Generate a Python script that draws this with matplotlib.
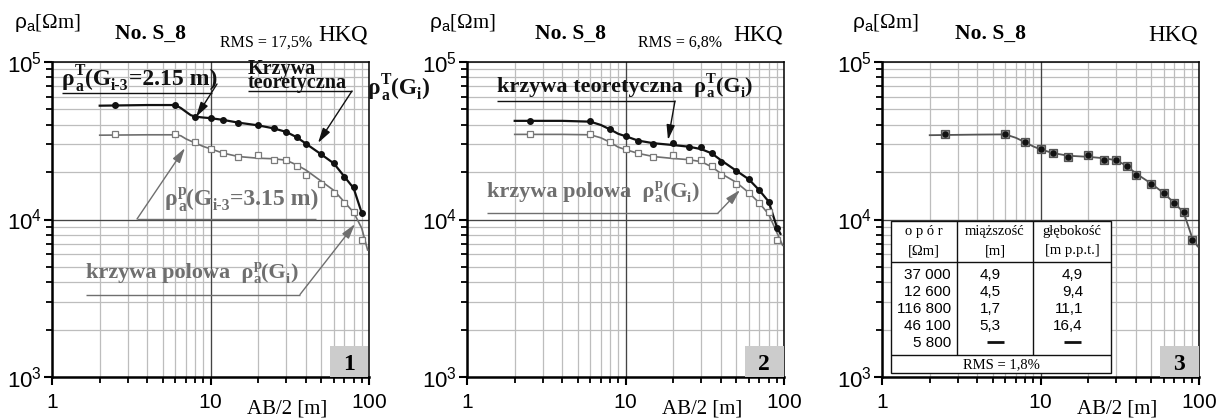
import numpy as np
import matplotlib
matplotlib.use("Agg")
import matplotlib.pyplot as plt
from matplotlib.patches import Rectangle
from matplotlib.ticker import FixedLocator, FuncFormatter, NullFormatter

plt.rcParams['font.family'] = ['Liberation Serif', 'DejaVu Serif']
plt.rcParams['mathtext.fontset'] = 'custom'
plt.rcParams['mathtext.rm'] = 'Liberation Serif'
plt.rcParams['mathtext.it'] = 'Liberation Serif:italic'
plt.rcParams['mathtext.bf'] = 'Liberation Serif:bold'
plt.rcParams['mathtext.sf'] = 'Liberation Sans'

# ---------------- data ----------------
ab2 = [2.5, 6, 8, 10, 12, 15, 20, 25, 30, 35, 40, 50, 60, 70, 80, 90]
rho_field = [34700, 34700, 30900, 27900, 26300, 24800, 25500, 24000, 24000,
             21900, 19100, 16900, 14700, 12700, 11100, 7400]
rho_theor_1 = [53300, 53300, 45000, 44000, 42900, 41200, 39600, 37900, 36000,
               33300, 30200, 25900, 22700, 18500, 16200, 11000]
rho_theor_2 = [42300, 42300, 37300, 33800, 31700, 30200, 30600, 28800, 28700,
               26400, 23300, 20400, 18000, 15300, 13000, 8800]

# smooth curves
curve_t1_x = [2, 4, 6, 6.5, 7, 7.5, 8, 9, 10, 12, 15, 20, 25, 30, 35, 40, 50, 60, 70, 80, 90]
curve_t1_y = [52800, 53300, 53300, 51000, 48300, 46000, 45000, 44400, 44000, 42900, 41200,
              39600, 37900, 36000, 33300, 30300, 25900, 22700, 18700, 15800, 11000]
curve_f1_x = [2, 4, 6, 6.5, 7, 8, 9, 10, 12, 15, 20, 25, 30, 35, 40, 50, 60, 70, 80, 90, 98]
curve_f1_y = [34300, 34500, 34500, 34000, 32500, 30600, 29100, 28100, 26400, 25100, 24500,
              24300, 23800, 22200, 20600, 17500, 15300, 12900, 11100, 8800, 6400]
curve_t2_x = [2, 4, 6, 7, 8, 9, 10, 12, 15, 20, 25, 30, 35, 40, 50, 60, 70, 80, 90, 95]
curve_t2_y = [42300, 42300, 41800, 39800, 37300, 35000, 33800, 31700, 30500, 29700, 29000,
              28000, 26300, 23800, 20400, 18000, 15300, 13000, 9000, 8100]
curve_f2_x = [2, 4, 6, 7, 8, 9, 10, 12, 15, 20, 25, 30, 35, 40, 50, 60, 70, 80, 90, 98]
curve_f2_y = [34700, 34700, 34500, 33000, 30900, 28800, 27800, 26300, 25100, 24400, 24000,
              23300, 21600, 19600, 17200, 14800, 12700, 10800, 8300, 6860]
curve_3_x = [2, 4, 6, 7, 8, 9, 10, 12, 15, 20, 25, 30, 35, 40, 50, 60, 70, 80, 90, 98]
curve_3_y = [34300, 34600, 34700, 33000, 30900, 29100, 27900, 26400, 25400, 25000, 24500,
             23800, 21900, 19600, 16900, 14700, 12700, 11100, 7800, 6750]

rms_labels = ["RMS = 17,5%", "RMS = 6,8%", None]
panel_numbers = ["1", "2", "3"]

table_header = [("o p ó r", "[Ωm]"), ("miąższość", "[m]"), ("głębokość", "[m p.p.t.]")]
table_res = ["37 000", "12 600", "116 800", "46 100", "5 800"]
table_thick = ["4,9", "4,5", "1,7", "5,3", "—"]
table_depth = ["4,9", "9,4", "11,1", "16,4", "—"]
table_rms = "RMS = 1,8%"

W, H = 1227, 419
fig = plt.figure(figsize=(W / 100, H / 100), dpi=100)

BLACK = '#111111'
GRAY = '#6f6f6f'
GRID = '#bdbdbd'
DARK = '#444444'

lefts = [52, 467, 882]
axes = []
for i, lx in enumerate(lefts):
    ax = fig.add_axes([lx / W, 1 - 377 / H, 317 / W, 315 / H])
    ax.set_xscale('log')
    ax.set_yscale('log')
    ax.set_xlim(1, 100)
    ax.set_ylim(1e3, 1e5)
    ax.grid(True, which='both', color=GRID, lw=0.9, zorder=0)
    ax.axvline(10, color=DARK, lw=0.9, zorder=1)
    ax.axhline(1e4, color=DARK, lw=0.9, zorder=1)
    ax.set_axisbelow(True)
    for s in ['left', 'bottom']:
        ax.spines[s].set_linewidth(1.8)
    for s in ['top', 'right']:
        ax.spines[s].set_linewidth(1.1)
    ax.tick_params(which='major', direction='out', length=6, width=1.5,
                   top=False, right=False)
    ax.tick_params(which='minor', direction='out', length=4, width=1.3,
                   top=False, right=False)
    ax.tick_params(axis='x', which='major', labelsize=15, pad=6)
    ax.tick_params(axis='y', which='major', labelsize=16, pad=1)
    ax.xaxis.set_major_locator(FixedLocator([1, 10, 100]))
    ax.xaxis.set_major_formatter(FuncFormatter(lambda v, p: r'$\mathsf{%d}$' % round(v)))
    ax.yaxis.set_major_locator(FixedLocator([1e3, 1e4, 1e5]))
    ax.yaxis.set_major_formatter(FuncFormatter(lambda v, p: r'$\mathsf{10^{%d}}$' % round(np.log10(v))))
    ax.xaxis.set_minor_formatter(NullFormatter())
    ax.yaxis.set_minor_formatter(NullFormatter())
    axes.append(ax)

ax1, ax2, ax3 = axes

# panel 1
ax1.plot(curve_f1_x, curve_f1_y, color=GRAY, lw=1.2, zorder=3)
ax1.plot(curve_t1_x, curve_t1_y, color=BLACK, lw=1.6, zorder=4)
ax1.plot(ab2, rho_field, ls='none', marker='s', ms=5, mfc='white', mec='#7a7a7a', mew=0.9, zorder=5)
ax1.plot(ab2, rho_theor_1, ls='none', marker='o', ms=4, color=BLACK, zorder=6)

# panel 2
ax2.plot(curve_f2_x, curve_f2_y, color=GRAY, lw=1.2, zorder=3)
ax2.plot(curve_t2_x, curve_t2_y, color=BLACK, lw=1.6, zorder=4)
ax2.plot(ab2, rho_field, ls='none', marker='s', ms=5, mfc='white', mec='#7a7a7a', mew=0.9, zorder=5)
ax2.plot(ab2, rho_theor_2, ls='none', marker='o', ms=4, color=BLACK, zorder=6)

# panel 3
ax3.plot(curve_3_x, curve_3_y, color='#555555', lw=1.3, zorder=3)
ax3.plot(ab2, rho_field, ls='none', marker='s', ms=5.2, mfc='#8a8a8a', mec='#555555', mew=0.9, zorder=5)
ax3.plot(ab2, rho_field, ls='none', marker='o', ms=3.6, color=BLACK, zorder=6)

# ---------- overlay in pixel coordinates ----------
ov = fig.add_axes([0, 0, 1, 1], zorder=10)
ov.set_xlim(0, W)
ov.set_ylim(H, 0)
ov.axis('off')
ov.patch.set_alpha(0)
renderer = fig.canvas.get_renderer()


def arrow(x0, y0, x1, y1, color):
    ov.annotate('', xy=(x1, y1), xytext=(x0, y0),
                arrowprops=dict(arrowstyle='-|>,head_length=0.9,head_width=0.25',
                                color=color, lw=1.0, shrinkA=0, shrinkB=0))


def line(xs, ys, color, lw=1.0):
    ov.plot(xs, ys, color=color, lw=lw, solid_capstyle='butt')


def _w(t):
    return t.get_window_extent(renderer).width


def rich(x, y, pieces, size, color):
    """pieces: ('n', text) normal, ('sub', text), ('ss', (sub, sup))"""
    em = size * 100 / 72.0
    small = size * 0.66
    cur = x
    kw = dict(color=color, fontweight='bold', ha='left', va='baseline')
    for kind, s in pieces:
        if kind == 'n':
            t = ov.text(cur, y, s, fontsize=size, **kw)
            cur += _w(t)
        elif kind == 'sub':
            t = ov.text(cur, y + 0.22 * em, s, fontsize=small, **kw)
            cur += _w(t)
        else:
            sb, sp = s
            t1 = ov.text(cur + 0.5, y + 0.24 * em, sb, fontsize=small, **kw)
            t2 = ov.text(cur, y - 0.42 * em, sp, fontsize=small, **kw)
            cur += max(_w(t1), _w(t2))
    return cur


# headers
for i, lx in enumerate(lefts):
    off = lx - 52
    ov.text(14 + off + (i == 2) * 8, 28, r'$\mathsf{\rho_a}$[Ωm]', fontsize=15, ha='left', va='baseline')
    ov.text(115 + off + (i == 1) * 5 + (i == 2) * 10, 39, 'No. S_8', fontsize=15.5, fontweight='bold',
            ha='left', va='baseline')
    ov.text(368 + off, 40, 'HKQ', fontsize=16.5, ha='right', va='baseline')
    if rms_labels[i]:
        ov.text(220 + off + (i == 1) * 3, 47, rms_labels[i], fontsize=11.5, ha='left', va='baseline')
    ov.text(247 + off, 413, 'AB/2 [m]', fontsize=15, ha='left', va='baseline')
    # number box
    ov.add_patch(Rectangle((330 + off, 346), 38 + (i > 0), 31, facecolor='#cccccc', edgecolor='none'))
    ov.text(349 + off, 370, panel_numbers[i], fontsize=17, fontweight='bold', ha='center', va='baseline')

# panel 1 annotations
rich(62, 85, [('n', 'ρ'), ('ss', ('a', 'T')), ('n', '(G'), ('sub', 'i-3'), ('n', '=2.15 m)')], 17, BLACK)
line([62, 212], [93, 93], BLACK)
arrow(217, 84, 196, 117, BLACK)
ov.text(248, 74, 'Krzywa', fontsize=14.5, fontweight='bold', color=BLACK, ha='left', va='baseline')
ov.text(248, 88, 'teoretyczna', fontsize=14.5, fontweight='bold', color=BLACK, ha='left', va='baseline')
rich(368, 94, [('n', 'ρ'), ('ss', ('a', 'T')), ('n', '(G'), ('sub', 'i'), ('n', ')')], 17, BLACK)
line([248, 352], [91, 91], BLACK)
arrow(352, 91, 318, 143, BLACK)

rich(165, 205, [('n', 'ρ'), ('ss', ('a', 'p')), ('n', '(G'), ('sub', 'i-3'), ('n', '=3.15 m)')], 17, GRAY)
line([137, 316], [219, 219], GRAY)
arrow(137, 219, 185, 148, GRAY)

rich(86, 278, [('n', 'krzywa polowa  ρ'), ('ss', ('a', 'p')), ('n', '(G'), ('sub', 'i'), ('n', ')')], 16, GRAY)
line([86, 300], [294.5, 294.5], GRAY)
arrow(300, 294.5, 355, 224, GRAY)

# panel 2 annotations
rich(497, 92, [('n', 'krzywa teoretyczna  ρ'), ('ss', ('a', 'T')), ('n', '(G'), ('sub', 'i'), ('n', ')')],
     16, BLACK)
line([497, 675], [101, 101], BLACK)
arrow(675, 101, 668, 140, BLACK)
rich(487, 197, [('n', 'krzywa polowa  ρ'), ('ss', ('a', 'p')), ('n', '(G'), ('sub', 'i'), ('n', ')')],
     16, GRAY)
line([487, 718], [213, 213], GRAY)
arrow(718, 213, 740, 190, GRAY)

# panel 3 table
tx0, tx1, ty0, ty1 = 891, 1111, 221, 373
ov.add_patch(Rectangle((tx0, ty0), tx1 - tx0, ty1 - ty0, facecolor='white', edgecolor=BLACK, lw=1.0))
line([956.7, 956.7], [ty0, 355], BLACK)
line([1033.3, 1033.3], [ty0, 355], BLACK)
line([tx0, tx1], [261.7, 261.7], BLACK)
line([tx0, tx1], [355, 355], BLACK)
hx = [924, 995, 1072]
for (h1, h2), cx in zip(table_header, hx):
    ov.text(cx, 235, h1, fontsize=10.5, ha='center', va='baseline')
    ov.text(cx, 254, h2, fontsize=10.5, ha='center', va='baseline')
rows_y = [279, 296, 313, 330, 347]
for j, y in enumerate(rows_y):
    ov.text(951, y, table_res[j], fontsize=11, family='Liberation Sans', ha='right', va='baseline')
    if table_thick[j] == '—':
        line([987, 1004], [y - 5, y - 5], BLACK, lw=2)
        line([1064, 1081], [y - 5, y - 5], BLACK, lw=2)
    else:
        ov.text(990, y, table_thick[j], fontsize=11, family='Liberation Sans', ha='center', va='baseline')
        ov.text(1083, y, table_depth[j], fontsize=11, family='Liberation Sans', ha='right', va='baseline')
ov.text(1001, 368, table_rms, fontsize=10.5, ha='center', va='baseline')

fig.savefig('out.png', dpi=100)
